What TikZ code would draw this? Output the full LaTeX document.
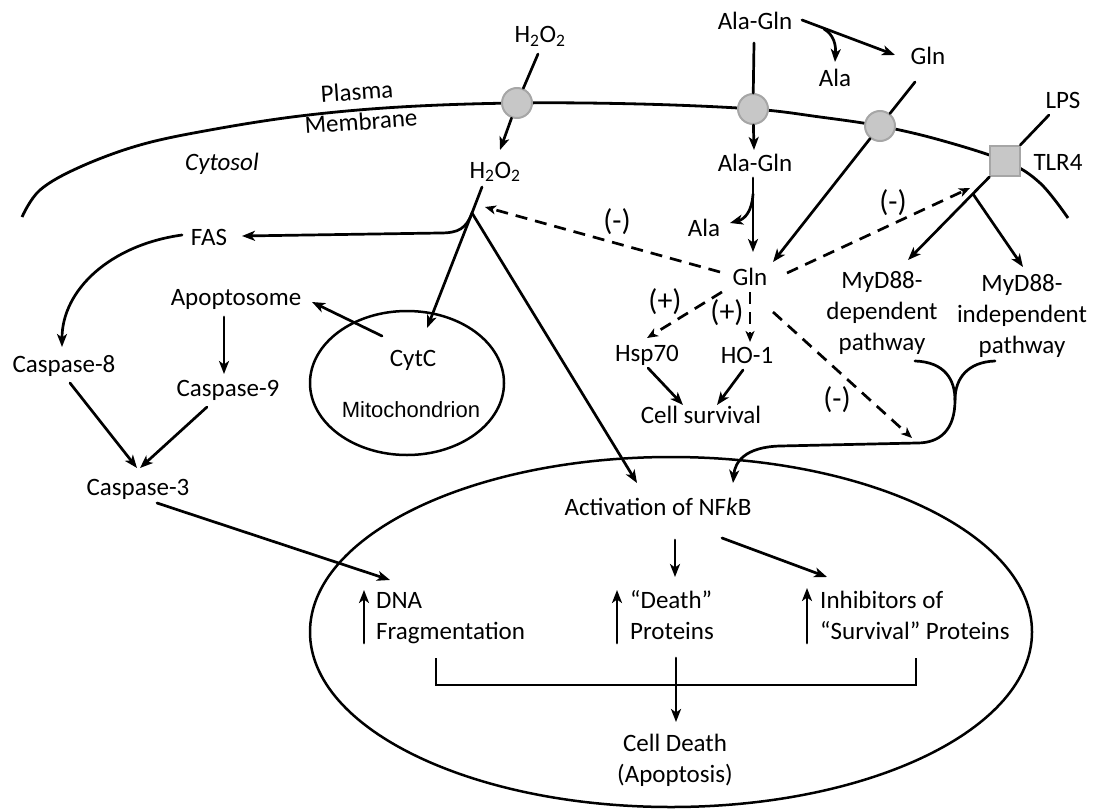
\documentclass[tikz,border=0pt]{standalone}
\usepackage{fontspec}
\setmainfont{Carlito}
\newfontfamily\arialfont{Liberation Sans}
\usetikzlibrary{arrows.meta,shapes.geometric}
\begin{document}
\begin{tikzpicture}[x=1pt,y=-1pt,
  lbl/.style={font=\fontsize{25}{31}\selectfont, inner sep=0pt, text height=16pt, text depth=0pt},
  mlbl/.style={font=\fontsize{25}{31}\selectfont, inner sep=0pt},
  sign/.style={font=\fontsize{30}{34}\selectfont, inner sep=0pt},
  ln/.style={line width=2.7pt, line cap=round},
  arr/.style={ln, -{Stealth[length=13pt,width=10pt,inset=3.5pt]}},
  dsh/.style={line width=2.7pt, dash pattern=on 12pt off 8pt, -{Stealth[length=11pt,width=9pt,inset=3pt]}},
  chan/.style={circle, minimum size=30pt, inner sep=0pt, fill=black!22, draw=black!35, line width=2pt},
  rec/.style={rectangle, minimum size=30pt, inner sep=0pt, fill=black!22, draw=black!35, line width=2pt}
]
\useasboundingbox (0,0) rectangle (1094,808);

% ---- membrane
\draw[line width=2.8pt] plot[smooth, tension=0.6] coordinates {(22,217) (40,190) (80,167) (140,145) (210,130) (300,116) (400,107) (517,103) (640,104) (753,109) (820,117) (880,126) (940,140) (1005,161) (1040,183) (1068,218)};
\node[chan] (ch1) at (517,103) {};
\node[chan] (ch2) at (753,109) {};
\node[chan] (ch3) at (880,126) {};
\node[rec] (tlrbox) at (1005,161) {};

% ---- compartments
\node[draw, ellipse, minimum width=194pt, minimum height=144pt, line width=2.5pt] (mitoell) at (407,383) {};
\node[draw, ellipse, minimum width=722pt, minimum height=350pt, line width=2.5pt] (nucleus) at (671,632) {};

% ---- labels
\node[lbl, rotate=4] (plasma) at (357,92) {Plasma};
\node[lbl, rotate=4] (membrane) at (361,122) {Membrane};
\node[lbl] (cytosol) at (222,162) {\itshape Cytosol};
\node[lbl] (h2o2out) at (540,35) {H\textsubscript{2}O\textsubscript{2}};
\node[lbl] (h2o2in) at (495,170) {H\textsubscript{2}O\textsubscript{2}};
\node[lbl] (alaglnout) at (755,22) {Ala-Gln};
\node[lbl] (alaout) at (835,78) {Ala};
\node[lbl] (glnout) at (928,56) {Gln};
\node[lbl] (lps) at (1063,100) {LPS};
\node[lbl] (tlr4) at (1058,162) {TLR4};
\node[lbl] (alaglnin) at (755,163) {Ala-Gln};
\node[lbl] (alain) at (704,228) {Ala};
\node[lbl] (gln) at (750,277) {Gln};
\node[lbl] (fas) at (209,237) {FAS};
\node[lbl] (apoptosome) at (236,297) {Apoptosome};
\node[lbl] (casp8) at (64,364) {Caspase-8};
\node[lbl] (casp9) at (228,388) {Caspase-9};
\node[lbl] (casp3) at (138,487) {Caspase-3};
\node[lbl] (cytc) at (413,358) {CytC};
\node[lbl, font=\arialfont\fontsize{22}{26}\selectfont, text height=15pt] (mito) at (411,410) {Mitochondrion};
\node[sign] (minusL) at (617,222) {(-)};
\node[sign] (minusR) at (893,203) {(-)};
\node[sign] (minusLow) at (837,400) {(-)};
\node[sign] (plusL) at (665,302) {(+)};
\node[sign] (plusR) at (727,313) {(+)};
\node[lbl] (hsp70) at (647,353) {Hsp70};
\node[lbl] (ho1) at (747,355) {HO-1};
\node[lbl] (survival) at (701,415) {Cell survival};
\node[mlbl, align=center] (myddep) at (882,313) {MyD88-\\dependent\\pathway};
\node[mlbl, align=center] (mydindep) at (1022,316) {MyD88-\\independent\\pathway};
\node[lbl] (nfkb) at (658,507) {Activation of NF\textit{k}B};
\node[mlbl, align=left, anchor=west] (dna) at (376,618) {DNA\\Fragmentation};
\node[mlbl, align=left, anchor=west] (death) at (630,615) {“Death”\\Proteins};
\node[mlbl, align=left, anchor=west] (inhib) at (820,615) {Inhibitors of\\“Survival” Proteins};
\node[mlbl, align=center] (celldeath) at (675,760) {Cell Death\\(Apoptosis)};

% ---- connector end points
\coordinate (j) at (472,213);
\coordinate (a1) at (538,54);
\coordinate (a2) at (500,150);
\coordinate (a3) at (482,187);
\coordinate (fasBend) at (440,233);
\coordinate (fasIn) at (242,236);
\coordinate (cytcIn) at (427,328);
\coordinate (nfkbIn1) at (637,483);
\coordinate (jIn) at (485,207);
\coordinate (glnL) at (720,272);
\coordinate (b1) at (754,43);
\coordinate (b2) at (754,150);
\coordinate (b3) at (753,178);
\coordinate (b4) at (753,252);
\coordinate (b5) at (753,194);
\coordinate (b6) at (730,223);
\coordinate (c1) at (802,20);
\coordinate (c2) at (895,55);
\coordinate (c3) at (824,29);
\coordinate (c4) at (835,62);
\coordinate (c5) at (915,82);
\coordinate (glnIn2) at (773,262);
\coordinate (d1) at (1049,115);
\coordinate (depIn) at (908,260);
\coordinate (d3) at (973,194);
\coordinate (indepIn) at (1023,267);
\coordinate (glnR) at (787,273);
\coordinate (tlrIn) at (970,188);
\coordinate (glnHs) at (722,292);
\coordinate (hspIn) at (647,338);
\coordinate (glnHo) at (750,292);
\coordinate (hoIn) at (750,342);
\coordinate (glnLow) at (773,312);
\coordinate (mergeIn) at (912,438);
\coordinate (hspOut) at (648,368);
\coordinate (survIn1) at (683,405);
\coordinate (hoOut) at (743,370);
\coordinate (survIn2) at (717,405);
\coordinate (depOut) at (915,361);
\coordinate (indepOut) at (995,361);
\coordinate (merge) at (955,400);
\coordinate (mergeLow) at (917,443);
\coordinate (mergeLeft) at (780,446);
\coordinate (nfkbIn2) at (733,483);
\coordinate (fasOut) at (182,235);
\coordinate (casp8In) at (62,347);
\coordinate (apoOut) at (224,317);
\coordinate (casp9In) at (224,374);
\coordinate (cytcOut) at (382,336);
\coordinate (apoIn) at (312,302);
\coordinate (casp8Out) at (70,383);
\coordinate (casp3InA) at (137,468);
\coordinate (casp9Out) at (207,407);
\coordinate (casp3InB) at (140,468);
\coordinate (casp3Out) at (157,503);
\coordinate (dnaIn) at (390,580);
\coordinate (nfkbOutD) at (675,540);
\coordinate (deathIn) at (675,577);
\coordinate (nfkbOutI) at (722,538);
\coordinate (inhibIn) at (827,577);
\coordinate (upDa) at (364,643);
\coordinate (upDb) at (364,590);
\coordinate (upPa) at (617,643);
\coordinate (upPb) at (617,590);
\coordinate (upIa) at (807,643);
\coordinate (upIb) at (807,588);
\coordinate (brA) at (436,658);
\coordinate (brB) at (436,685);
\coordinate (brC) at (916,685);
\coordinate (brD) at (916,658);
\coordinate (cdOut) at (676,658);
\coordinate (cdIn) at (676,722);

% ---- H2O2 branch
\draw[ln] (a1) -- (ch1);
\draw[arr] (ch1) -- (a2);
\draw[ln] (a3) -- (j);
\draw[arr] (j) .. controls (466,229) and (458,233) .. (fasBend) -- (fasIn);
\draw[arr] (j) -- (cytcIn);
\draw[arr] (j) -- (nfkbIn1);
\draw[dsh] (glnL) -- (jIn);

% ---- Ala-Gln branch
\draw[ln] (b1) -- (ch2);
\draw[arr] (ch2) -- (b2);
\draw[arr] (b3) -- (b4);
\draw[arr] (b5) .. controls (752,211) and (745,219) .. (b6);
\draw[arr] (c1) -- (c2);
\draw[arr] (c3) .. controls (834,35) and (836,45) .. (c4);
\draw[ln] (c5) -- (ch3);
\draw[arr] (ch3) -- (glnIn2);

% ---- TLR4
\draw[ln] (d1) -- (tlrbox);
\draw[arr] (tlrbox) -- (depIn);
\draw[arr] (d3) -- (indepIn);
\draw[dsh] (glnR) -- (tlrIn);

% ---- Gln effects
\draw[dsh] (glnHs) -- (hspIn);
\draw[dsh] (glnHo) -- (hoIn);
\draw[dsh] (glnLow) -- (mergeIn);
\draw[arr] (hspOut) -- (survIn1);
\draw[arr] (hoOut) -- (survIn2);

% ---- MyD88 merge
\draw[ln] (indepOut) .. controls (968,362) and (955,378) .. (merge);
\draw[arr] (depOut) .. controls (945,362) and (955,380) .. (merge)
  .. controls (955,430) and (940,443) .. (mergeLow) -- (mergeLeft)
  .. controls (745,447) and (735,462) .. (nfkbIn2);

% ---- caspases
\draw[arr] (fasOut) .. controls (110,245) and (62,290) .. (casp8In);
\draw[arr] (apoOut) -- (casp9In);
\draw[arr] (cytcOut) -- (apoIn);
\draw[arr] (casp8Out) -- (casp3InA);
\draw[arr] (casp9Out) -- (casp3InB);
\draw[arr] (casp3Out) -- (dnaIn);

% ---- nucleus
\draw[arr] (nfkbOutD) -- (deathIn);
\draw[arr] (nfkbOutI) -- (inhibIn);
\draw[arr] (upDa) -- (upDb);
\draw[arr] (upPa) -- (upPb);
\draw[arr] (upIa) -- (upIb);
\draw[line width=2.7pt] (brA) -- (brB) -- (brC) -- (brD);
\draw[arr] (cdOut) -- (cdIn);
\end{tikzpicture}
\end{document}
